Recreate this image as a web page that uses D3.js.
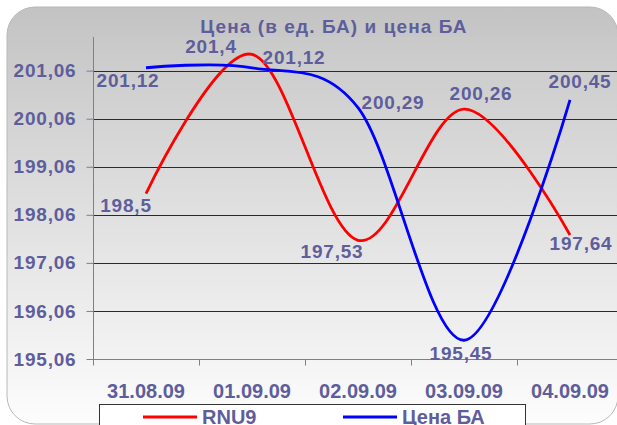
<!DOCTYPE html>
<html>
<head>
<meta charset="utf-8">
<script src="https://cdn.jsdelivr.net/npm/d3@7"></script>
<style>
  body { margin: 0; background: #fff; }
  svg { display: block; font-family: "Liberation Sans", Arial, sans-serif; }
</style>
</head>
<body>
<svg id="chart" width="617" height="425"></svg>
<script>
// chart data
var dates = ["31.08.09", "01.09.09", "02.09.09", "03.09.09", "04.09.09"];
var rnu9 = [198.5, 201.4, 197.53, 200.26, 197.64];
var priceBA = [201.12, 201.12, 200.29, 195.45, 200.45];
var yTicks = [195.06, 196.06, 197.06, 198.06, 199.06, 200.06, 201.06];
var seriesNames = ["RNU9", "Цена БА"];

// label offsets (from the point), picked by eye
var rnuOffsets = [[-20, 18], [-41, -1], [-26, 18], [17, -9], [11, 15]];
var baOffsets = [[-18, 19], [42, -4], [35, 1], [-3, 20], [10, -12]];

var txtColor = "#5e5e9c";
var axisColor = "#7a7aac";

var svg = d3.select("#chart");
var defs = svg.append("defs");

var g1 = defs.append("linearGradient").attr("id", "bg").attr("x1", 0).attr("y1", 0).attr("x2", 0).attr("y2", 1);
g1.append("stop").attr("offset", "0%").attr("stop-color", "#c3c3c3");
g1.append("stop").attr("offset", "100%").attr("stop-color", "#fdfdfd");

var g2 = defs.append("linearGradient").attr("id", "plotbg").attr("x1", 0).attr("y1", 0).attr("x2", 0).attr("y2", 1);
g2.append("stop").attr("offset", "0%").attr("stop-color", "#c9c9c9");
g2.append("stop").attr("offset", "100%").attr("stop-color", "#f3f3f3");

// outer rounded background
svg.append("rect")
  .attr("x", 7).attr("y", 7).attr("width", 611).attr("height", 417)
  .attr("rx", 28).attr("ry", 28)
  .attr("fill", "url(#bg)").attr("stroke", "#b8b8b8").attr("stroke-width", 1);

var pLeft = 93, pRight = 623, pTop = 37, pBottom = 359;

var x = d3.scaleBand().domain(dates).range([pLeft, pRight]);
var y = d3.scaleLinear().domain([195.06, 201.76]).range([pBottom, pTop]);
var cx = function(i) { return x(dates[i]) + x.bandwidth() / 2; };

svg.append("rect")
  .attr("x", pLeft).attr("y", pTop).attr("width", pRight - pLeft).attr("height", pBottom - pTop)
  .attr("fill", "url(#plotbg)");

// gridlines
svg.append("g").selectAll("line")
  .data(yTicks.slice(1))
  .enter().append("line")
  .attr("x1", pLeft).attr("x2", pRight)
  .attr("y1", function(d) { return Math.round(y(d)) + 0.5; })
  .attr("y2", function(d) { return Math.round(y(d)) + 0.5; })
  .attr("stroke", "#2a2a2a").attr("stroke-width", 1);

// y axis
var yAxis = svg.append("g")
  .attr("transform", "translate(" + (pLeft + 0.5) + ",0)")
  .call(d3.axisLeft(y).tickValues(yTicks).tickSize(7).tickPadding(10)
    .tickFormat(function(d) { return d.toFixed(2).replace(".", ","); }));
yAxis.select(".domain").attr("stroke", axisColor).attr("d", "M0," + pTop + "V" + pBottom);
yAxis.selectAll(".tick line").attr("stroke", axisColor);
yAxis.selectAll("text")
  .attr("fill", txtColor).attr("font-size", "19px").attr("font-weight", "bold")
  .attr("letter-spacing", "0.8px").attr("font-family", "Liberation Sans, Arial, sans-serif");

// x axis
var xAxis = svg.append("g")
  .attr("transform", "translate(0," + (pBottom + 0.5) + ")")
  .call(d3.axisBottom(x).tickSize(0).tickPadding(24));
xAxis.select(".domain").attr("stroke", axisColor).attr("d", "M" + pLeft + ",0H" + pRight);
xAxis.selectAll("text")
  .attr("fill", txtColor).attr("font-size", "20px").attr("font-weight", "bold")
  .attr("font-family", "Liberation Sans, Arial, sans-serif");
// ticks between categories
xAxis.selectAll(".between")
  .data(dates)
  .enter().append("line")
  .attr("x1", function(d) { return Math.round(x(d)) + 0.5; })
  .attr("x2", function(d) { return Math.round(x(d)) + 0.5; })
  .attr("y1", 0).attr("y2", 6)
  .attr("stroke", axisColor);

// lines
var line = d3.line()
  .x(function(d, i) { return cx(i); })
  .y(function(d) { return y(d); })
  .curve(d3.curveCatmullRom.alpha(0));

svg.append("path").datum(rnu9)
  .attr("d", line).attr("fill", "none").attr("stroke", "#ff0000").attr("stroke-width", 2.8);
svg.append("path").datum(priceBA)
  .attr("d", line).attr("fill", "none").attr("stroke", "#0000ff").attr("stroke-width", 2.8);

// data labels
function addLabels(values, offsets) {
  svg.append("g").selectAll("text")
    .data(values)
    .enter().append("text")
    .attr("x", function(d, i) { return cx(i) + offsets[i][0]; })
    .attr("y", function(d, i) { return y(d) + offsets[i][1]; })
    .attr("text-anchor", "middle")
    .attr("fill", txtColor).attr("font-size", "19px").attr("font-weight", "bold")
    .attr("letter-spacing", "0.8px")
    .text(function(d) { return String(d).replace(".", ","); });
}
addLabels(rnu9, rnuOffsets);
addLabels(priceBA, baOffsets);

// title
svg.append("text")
  .attr("x", 334).attr("y", 33)
  .attr("text-anchor", "middle")
  .attr("fill", txtColor).attr("font-size", "19px").attr("font-weight", "bold")
  .attr("letter-spacing", "1.1px")
  .text("Цена (в ед. БА) и цена БА");

// legend (clipped by the bottom edge, as in the original)
var legend = svg.append("g");
legend.append("rect")
  .attr("x", 99.5).attr("y", 404.5).attr("width", 426).attr("height", 40)
  .attr("fill", "#fff").attr("stroke", "#333");
var colors = ["#ff0000", "#0000ff"];
seriesNames.forEach(function(name, i) {
  var lx = 143 + i * 200;
  legend.append("line")
    .attr("x1", lx).attr("x2", lx + 54).attr("y1", 417).attr("y2", 417)
    .attr("stroke", colors[i]).attr("stroke-width", 3);
  legend.append("text")
    .attr("x", lx + 59).attr("y", 424)
    .attr("fill", txtColor).attr("font-size", "20px").attr("font-weight", "bold")
    .text(name);
});
</script>
</body>
</html>
